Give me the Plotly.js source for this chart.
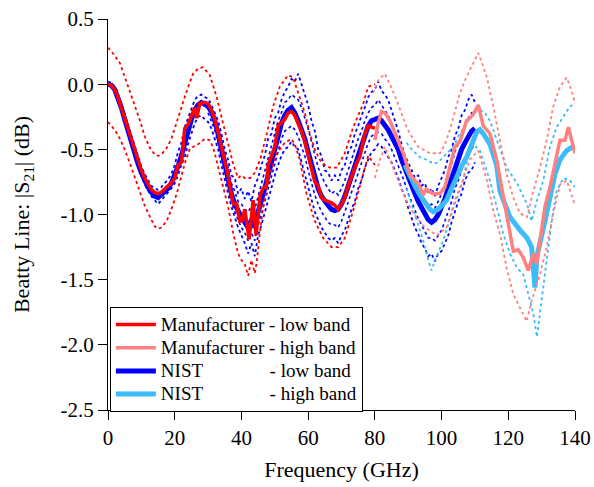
<!DOCTYPE html>
<html>
<head>
<meta charset="utf-8">
<script src="https://cdn.plot.ly/plotly-3.0.1.min.js"></script>
<style>html,body{margin:0;padding:0;background:#fff;}#chart{width:594px;height:487px;}</style>
</head>
<body>
<div id="chart"></div>
<script>
// ---------- Manufacturer - low band ----------
const mfrLowF = [0,1,2,3,4,5,6,7,8,9,10,11,12,13,14,15,16,17,18,19,20,21,22,22.6,23,24,25,26,26.6,27.5,29,30,31,32,33,34,35,36,37,37.6,38.6,39.5,40.2,41,42.3,43.5,44.4,45.6,46.5,47.5,48,49,50,51,52,53,54,55,56,57,58,59,60,61,62,63,64,65,66,67,68,69,70,71,72,73,74,75,75.5,77,78,80];
const mfrLowV = [0,-0.01,-0.04,-0.1,-0.18,-0.26,-0.35,-0.43,-0.51,-0.59,-0.66,-0.72,-0.77,-0.81,-0.83,-0.84,-0.83,-0.8,-0.78,-0.76,-0.72,-0.62,-0.6,-0.45,-0.34,-0.31,-0.24,-0.18,-0.26,-0.15,-0.14,-0.15,-0.2,-0.27,-0.37,-0.48,-0.58,-0.7,-0.85,-0.92,-0.92,-1.05,-1.05,-0.96,-1.19,-0.89,-1.16,-0.85,-0.8,-0.78,-0.62,-0.55,-0.48,-0.32,-0.29,-0.27,-0.22,-0.21,-0.24,-0.3,-0.36,-0.44,-0.55,-0.66,-0.75,-0.78,-0.87,-0.89,-0.9,-0.91,-0.93,-0.96,-0.92,-0.87,-0.78,-0.7,-0.64,-0.58,-0.56,-0.38,-0.32,-0.34];
const mfrLowUpF = [0,2,3.6,5,6.6,8,9.6,11,12.6,14,15,16,17.6,19,20.6,22,23.5,25.5,27,28.5,30.5,32.6,34,35.5,36.6,37.6,39,40,41,42.6,44,45.6,47.6,49.5,51.5,54,55.5,57.5,59,60.5,62,63.5,65,66.5,68.6,71,73.5,76.5,78,80];
const mfrLowUpV = [0.28,0.22,0.16,0.06,-0.05,-0.16,-0.28,-0.4,-0.49,-0.54,-0.55,-0.54,-0.49,-0.42,-0.3,-0.18,-0.06,0.08,0.12,0.13,0.07,-0.1,-0.25,-0.41,-0.52,-0.62,-0.72,-0.7,-0.72,-0.72,-0.68,-0.58,-0.38,-0.17,-0.02,0.07,0.05,-0.1,-0.22,-0.38,-0.5,-0.58,-0.62,-0.64,-0.64,-0.53,-0.33,-0.15,-0.02,0.0];
const mfrLowLoF = [0,2,3.6,5,6.6,8,9.6,11,12.6,14,15,16,17.6,19,20.6,22,23,24.6,26.6,29,30.5,31.6,33.5,35,36,37.6,39,40,41,42,43,44,44.5,45.5,46.5,48.5,50.6,53,55,56,57.5,59.5,62,64.5,67,69,71,73.5,76.5,78,80];
const mfrLowLoV = [-0.29,-0.35,-0.42,-0.5,-0.61,-0.71,-0.82,-0.93,-1.02,-1.09,-1.11,-1.1,-1.05,-0.96,-0.84,-0.71,-0.61,-0.49,-0.47,-0.42,-0.43,-0.49,-0.69,-0.84,-0.94,-1.15,-1.3,-1.35,-1.38,-1.47,-1.35,-1.45,-1.38,-1.15,-0.94,-0.69,-0.53,-0.45,-0.42,-0.46,-0.58,-0.84,-1.05,-1.18,-1.25,-1.25,-1.18,-0.97,-0.69,-0.55,-0.62];

// ---------- Manufacturer - high band ----------
const mfrHighF = [80,81,82,83,84.5,86.5,88.5,90.5,92,93,94.5,95.5,96,97.5,99.5,101,102.5,104,105.5,107,107.5,108.5,109.5,111,112.5,114.5,116.5,118,119.5,120.5,121.5,123,124.5,126,127.5,128.5,129.5,131,132.5,134,135.5,137,138,140];
const mfrHighV = [-0.43,-0.3,-0.21,-0.22,-0.28,-0.41,-0.53,-0.69,-0.74,-0.76,-0.85,-0.8,-0.82,-0.84,-0.84,-0.79,-0.64,-0.48,-0.44,-0.33,-0.28,-0.26,-0.23,-0.16,-0.32,-0.38,-0.58,-0.79,-0.99,-1.12,-1.28,-1.27,-1.33,-1.43,-1.3,-1.38,-1.2,-0.94,-0.79,-0.61,-0.43,-0.43,-0.33,-0.53];
const mfrHighUpF = [79.5,81,83,84.5,86.5,88,89.5,91,93,96.5,99.5,101,102.5,104,105.5,107,109.5,111,112,113.6,115.5,117.5,119.5,121.5,123.5,125.6,127.5,129.5,131.5,133.5,135.5,137.5,139,140];
const mfrHighUpV = [-0.07,0.03,0.08,0.0,-0.12,-0.22,-0.33,-0.4,-0.48,-0.53,-0.53,-0.46,-0.35,-0.21,-0.07,0.03,0.16,0.24,0.17,0.05,-0.17,-0.43,-0.69,-0.87,-0.99,-1.02,-0.82,-0.64,-0.43,-0.17,-0.02,0.05,-0.05,-0.15];
const mfrHighLoF = [80,81.5,83,85.5,88.5,91.5,95,98.6,101.5,104,106.5,108.5,111,113.6,115.5,117.5,119.5,121.5,123.5,125.5,127,129.5,131.5,133.5,135.5,137.5,139.5,140];
const mfrHighLoV = [-0.72,-0.58,-0.48,-0.64,-0.84,-0.99,-1.1,-1.16,-1.1,-0.89,-0.73,-0.58,-0.51,-0.74,-0.97,-1.15,-1.41,-1.61,-1.71,-1.82,-1.66,-1.46,-1.25,-0.99,-0.77,-0.74,-0.89,-0.93];

// ---------- NIST - low band ----------
const nistLowF = [0,1,2,3,4,5,6,7,8,9,10,11,12,13,14,15,16,17,18,19,20,21,22,23,24,25,26,27,28,29,30,31,32,33,34,35,36,37,38,39,40,41,42,43,44,45,46,47,48,49,50,51,52,53,54,55,56,57,58,59,60,61,62,63,64,65,66,67,68,69,70,71,72,73,74,75,76,77,78,79,80,81,82,83,84,85,86,87,88,89,90,91,92,93,94,95,96,97,98,99,100,101,102,103,104,105,106,107,108,109,110];
const nistLowV = [0,-0.01,-0.04,-0.1,-0.18,-0.27,-0.36,-0.45,-0.53,-0.61,-0.68,-0.74,-0.79,-0.83,-0.86,-0.87,-0.85,-0.82,-0.8,-0.76,-0.7,-0.63,-0.55,-0.45,-0.35,-0.27,-0.2,-0.16,-0.14,-0.16,-0.17,-0.21,-0.28,-0.38,-0.5,-0.62,-0.74,-0.84,-0.92,-0.98,-1.02,-1.06,-1.1,-1.04,-1.1,-0.98,-0.9,-0.8,-0.7,-0.6,-0.48,-0.38,-0.3,-0.24,-0.2,-0.18,-0.22,-0.28,-0.34,-0.42,-0.52,-0.62,-0.72,-0.8,-0.86,-0.9,-0.93,-0.96,-0.97,-0.96,-0.92,-0.86,-0.78,-0.7,-0.62,-0.54,-0.46,-0.38,-0.32,-0.28,-0.27,-0.26,-0.28,-0.31,-0.35,-0.4,-0.45,-0.5,-0.58,-0.65,-0.72,-0.78,-0.84,-0.9,-0.95,-1.0,-1.04,-1.06,-1.04,-1.0,-0.95,-0.88,-0.8,-0.72,-0.64,-0.58,-0.5,-0.45,-0.4,-0.36,-0.34];
const nistLowUpV = [0.02,0.01,-0.02,-0.07,-0.15,-0.23,-0.31,-0.4,-0.48,-0.56,-0.63,-0.69,-0.74,-0.78,-0.8,-0.81,-0.79,-0.76,-0.73,-0.69,-0.62,-0.52,-0.45,-0.33,-0.26,-0.18,-0.12,-0.09,-0.08,-0.1,-0.11,-0.16,-0.22,-0.28,-0.38,-0.5,-0.58,-0.7,-0.72,-0.84,-0.8,-0.88,-0.82,-0.9,-0.78,-0.72,-0.62,-0.55,-0.42,-0.38,-0.26,-0.22,-0.12,-0.06,-0.02,0.04,0.02,0.08,0.0,-0.08,-0.16,-0.28,-0.36,-0.5,-0.55,-0.66,-0.68,-0.74,-0.7,-0.74,-0.66,-0.62,-0.52,-0.48,-0.38,-0.32,-0.24,-0.18,-0.1,-0.06,-0.04,0.02,-0.05,-0.08,-0.12,-0.2,-0.28,-0.36,-0.46,-0.55,-0.6,-0.66,-0.72,-0.7,-0.78,-0.76,-0.84,-0.8,-0.86,-0.78,-0.72,-0.66,-0.56,-0.5,-0.4,-0.34,-0.24,-0.2,-0.12,-0.08,-0.14];
const nistLowLoV = [-0.01,-0.02,-0.05,-0.12,-0.2,-0.29,-0.37,-0.47,-0.55,-0.63,-0.7,-0.77,-0.82,-0.86,-0.89,-0.92,-0.89,-0.86,-0.83,-0.8,-0.76,-0.7,-0.62,-0.56,-0.46,-0.38,-0.3,-0.25,-0.24,-0.27,-0.29,-0.34,-0.42,-0.5,-0.62,-0.74,-0.84,-0.94,-1.02,-1.1,-1.16,-1.22,-1.3,-1.22,-1.32,-1.16,-1.08,-0.98,-0.9,-0.8,-0.7,-0.62,-0.55,-0.5,-0.48,-0.44,-0.48,-0.5,-0.6,-0.68,-0.8,-0.9,-0.98,-1.04,-1.1,-1.14,-1.18,-1.2,-1.18,-1.22,-1.16,-1.12,-1.04,-0.96,-0.9,-0.8,-0.74,-0.64,-0.58,-0.52,-0.5,-0.46,-0.48,-0.52,-0.55,-0.6,-0.66,-0.72,-0.8,-0.86,-0.95,-1.02,-1.1,-1.15,-1.22,-1.26,-1.32,-1.3,-1.36,-1.3,-1.28,-1.22,-1.16,-1.06,-0.98,-0.9,-0.84,-0.74,-0.68,-0.66,-0.6];
// inner scatter of the NIST low-band repeats (30-110 GHz)
const nistLowInF = [30,31,32,33,34,35,36,37,38,39,40,41,42,43,44,45,46,47,48,49,50,51,52,53,54,55,56,57,58,59,60,61,62,63,64,65,66,67,68,69,70,71,72,73,74,75,76,77,78,79,80,81,82,83,84,85,86,87,88,89,90,91,92,93,94,95,96,97,98,99,100,101,102,103,104,105,106,107,108,109,110];
const nistLowInUpV = [-0.14,-0.2,-0.24,-0.33,-0.44,-0.55,-0.64,-0.76,-0.82,-0.9,-0.92,-0.96,-0.98,-0.94,-0.96,-0.86,-0.76,-0.68,-0.56,-0.48,-0.38,-0.28,-0.22,-0.14,-0.12,-0.08,-0.1,-0.12,-0.18,-0.26,-0.34,-0.44,-0.55,-0.64,-0.7,-0.76,-0.8,-0.84,-0.82,-0.85,-0.8,-0.74,-0.66,-0.58,-0.5,-0.42,-0.36,-0.28,-0.22,-0.18,-0.16,-0.12,-0.16,-0.2,-0.24,-0.3,-0.36,-0.42,-0.5,-0.58,-0.64,-0.72,-0.76,-0.82,-0.86,-0.9,-0.94,-0.92,-0.95,-0.9,-0.84,-0.78,-0.68,-0.62,-0.52,-0.46,-0.38,-0.32,-0.26,-0.22,-0.24];
const nistLowInLoV = [-0.22,-0.28,-0.35,-0.45,-0.56,-0.68,-0.8,-0.9,-0.98,-1.04,-1.1,-1.14,-1.2,-1.14,-1.2,-1.08,-1.0,-0.9,-0.8,-0.7,-0.6,-0.5,-0.42,-0.36,-0.34,-0.32,-0.35,-0.4,-0.48,-0.55,-0.66,-0.76,-0.85,-0.92,-0.98,-1.02,-1.06,-1.08,-1.08,-1.1,-1.05,-0.98,-0.9,-0.83,-0.76,-0.68,-0.6,-0.52,-0.45,-0.4,-0.38,-0.37,-0.38,-0.42,-0.45,-0.5,-0.56,-0.62,-0.69,-0.76,-0.84,-0.9,-0.97,-1.03,-1.08,-1.13,-1.18,-1.18,-1.2,-1.16,-1.12,-1.05,-0.98,-0.9,-0.8,-0.74,-0.66,-0.58,-0.52,-0.5,-0.46];

// ---------- NIST - high band ----------
const nistHighF = [89,90.5,92,93.5,95,96.5,97.5,99,100.5,101.5,103,104.5,106,107.5,109,110.5,111.5,112.5,114.5,116.5,117.5,120.5,123.5,125.6,127,128,128.6,129.5,131,132.5,134,135.5,137.5,140];
const nistHighV = [-0.62,-0.71,-0.78,-0.85,-0.91,-0.96,-0.98,-0.96,-0.92,-0.89,-0.8,-0.71,-0.63,-0.56,-0.46,-0.37,-0.35,-0.38,-0.46,-0.62,-0.82,-1.02,-1.12,-1.18,-1.25,-1.56,-1.32,-1.2,-1.05,-0.87,-0.69,-0.58,-0.51,-0.47];
const nistHighUpF = [89.5,91,93.5,95.5,97.5,99,100.5,102,103.5,105,107.5,109.5,111.5,113,114.5,116.5,119.5,122.6,125.6,127,128.6,130.5,132.5,134.5,136.5,138.5,140];
const nistHighUpV = [-0.45,-0.5,-0.56,-0.58,-0.61,-0.6,-0.56,-0.52,-0.48,-0.4,-0.3,-0.22,-0.2,-0.22,-0.28,-0.43,-0.64,-0.76,-0.92,-1.05,-0.89,-0.74,-0.48,-0.33,-0.25,-0.17,-0.15];
const nistHighLoF = [89.5,91,92.5,94.5,96,97,98,100.5,103.5,106.5,107.5,109.5,111.5,114.5,116.5,118.5,120.5,122.6,124.5,126,127.5,128.6,130,131.5,133,134.5,136.5,138.5,140];
const nistHighLoV = [-0.8,-0.92,-1.05,-1.2,-1.35,-1.43,-1.35,-1.2,-0.95,-0.74,-0.6,-0.46,-0.51,-0.74,-0.94,-1.15,-1.3,-1.41,-1.46,-1.61,-1.76,-1.94,-1.66,-1.35,-1.05,-0.82,-0.72,-0.74,-0.79];

// ---------- axes ----------
const xTickVals = [0,20,40,60,80,100,120,140];
const xTickText = ['0','20','40','60','80','100','120','140'];
const yTickVals = [0.5,0,-0.5,-1,-1.5,-2,-2.5];
const yTickText = ['0.5','0.0','-0.5','-1.0','-1.5','-2.0','-2.5'];

const legendNames = ['Manufacturer - low band','Manufacturer - high band',
  'NIST' + '\u00a0'.repeat(14) + '- low band','NIST' + '\u00a0'.repeat(14) + '- high band'];

const RED = '#ff0000', SALMON = '#ff8080', BLUE = '#0000ff', LBLUE = '#3cbcf8';
const DOT = '3px,3px';

function dotted(x, y, color, w) {
  return {x: x, y: y, type: 'scatter', mode: 'lines', showlegend: false, hoverinfo: 'skip',
    line: {color: color, width: w || 1.8, dash: DOT}};
}
function solid(x, y, color, name, rank, w) {
  return {x: x, y: y, type: 'scatter', mode: 'lines',
    name: '<span style="font-size:19px">' + name + '</span>', legendrank: rank,
    line: {color: color, width: w}};
}

const traces = [
  dotted(nistLowF, nistLowUpV, BLUE),
  dotted(nistLowF, nistLowLoV, BLUE),
  dotted(nistLowInF, nistLowInUpV, BLUE, 1.6),
  dotted(nistLowInF, nistLowInLoV, BLUE, 1.6),
  solid(nistLowF, nistLowV, BLUE, legendNames[2], 3, 5),
  dotted(nistHighUpF, nistHighUpV, LBLUE),
  dotted(nistHighLoF, nistHighLoV, LBLUE),
  solid(nistHighF, nistHighV, LBLUE, legendNames[3], 4, 5),
  dotted(mfrLowUpF, mfrLowUpV, RED),
  dotted(mfrLowLoF, mfrLowLoV, RED),
  solid(mfrLowF, mfrLowV, RED, legendNames[0], 1, 3.5),
  dotted(mfrHighUpF, mfrHighUpV, SALMON),
  dotted(mfrHighLoF, mfrHighLoV, SALMON),
  solid(mfrHighF, mfrHighV, SALMON, legendNames[1], 2, 3.5)
];

const FONT = 'Liberation Serif';
const layout = {
  width: 594, height: 487,
  margin: {l: 108, r: 19, t: 19, b: 77, pad: 0},
  paper_bgcolor: '#fff', plot_bgcolor: '#fff',
  font: {family: FONT, size: 21, color: '#000'},
  showlegend: true,
  legend: {x: 0.004, y: 0.2634, xanchor: 'left', yanchor: 'top',
    bgcolor: '#fff', bordercolor: '#000', borderwidth: 1, itemwidth: 40,
    font: {family: FONT, size: 15.5, color: '#000'}, traceorder: 'normal'},
  xaxis: {range: [0, 140], tickmode: 'array', tickvals: xTickVals, ticktext: xTickText,
    showgrid: false, zeroline: false, showline: true, linecolor: '#000', linewidth: 1,
    ticks: 'outside', ticklen: 9, tickwidth: 1, tickcolor: '#000', mirror: false,
    tickfont: {family: FONT, size: 21, color: '#000'},
    title: {text: 'Frequency (GHz)', font: {family: FONT, size: 22, color: '#000'}, standoff: 12},
    automargin: false},
  yaxis: {range: [-2.5, 0.5], tickmode: 'array', tickvals: yTickVals, ticktext: yTickText,
    showgrid: false, zeroline: false, showline: true, linecolor: '#000', linewidth: 1,
    ticks: 'outside', ticklen: 9, tickwidth: 1, tickcolor: '#000', mirror: false,
    tickfont: {family: FONT, size: 21, color: '#000'},
    title: {text: 'Beatty Line: |S<sub>21</sub>| (dB)', font: {family: FONT, size: 22, color: '#000'}, standoff: 24},
    automargin: false}
};

Plotly.newPlot('chart', traces, layout, {staticPlot: true, displayModeBar: false});
</script>
</body>
</html>
